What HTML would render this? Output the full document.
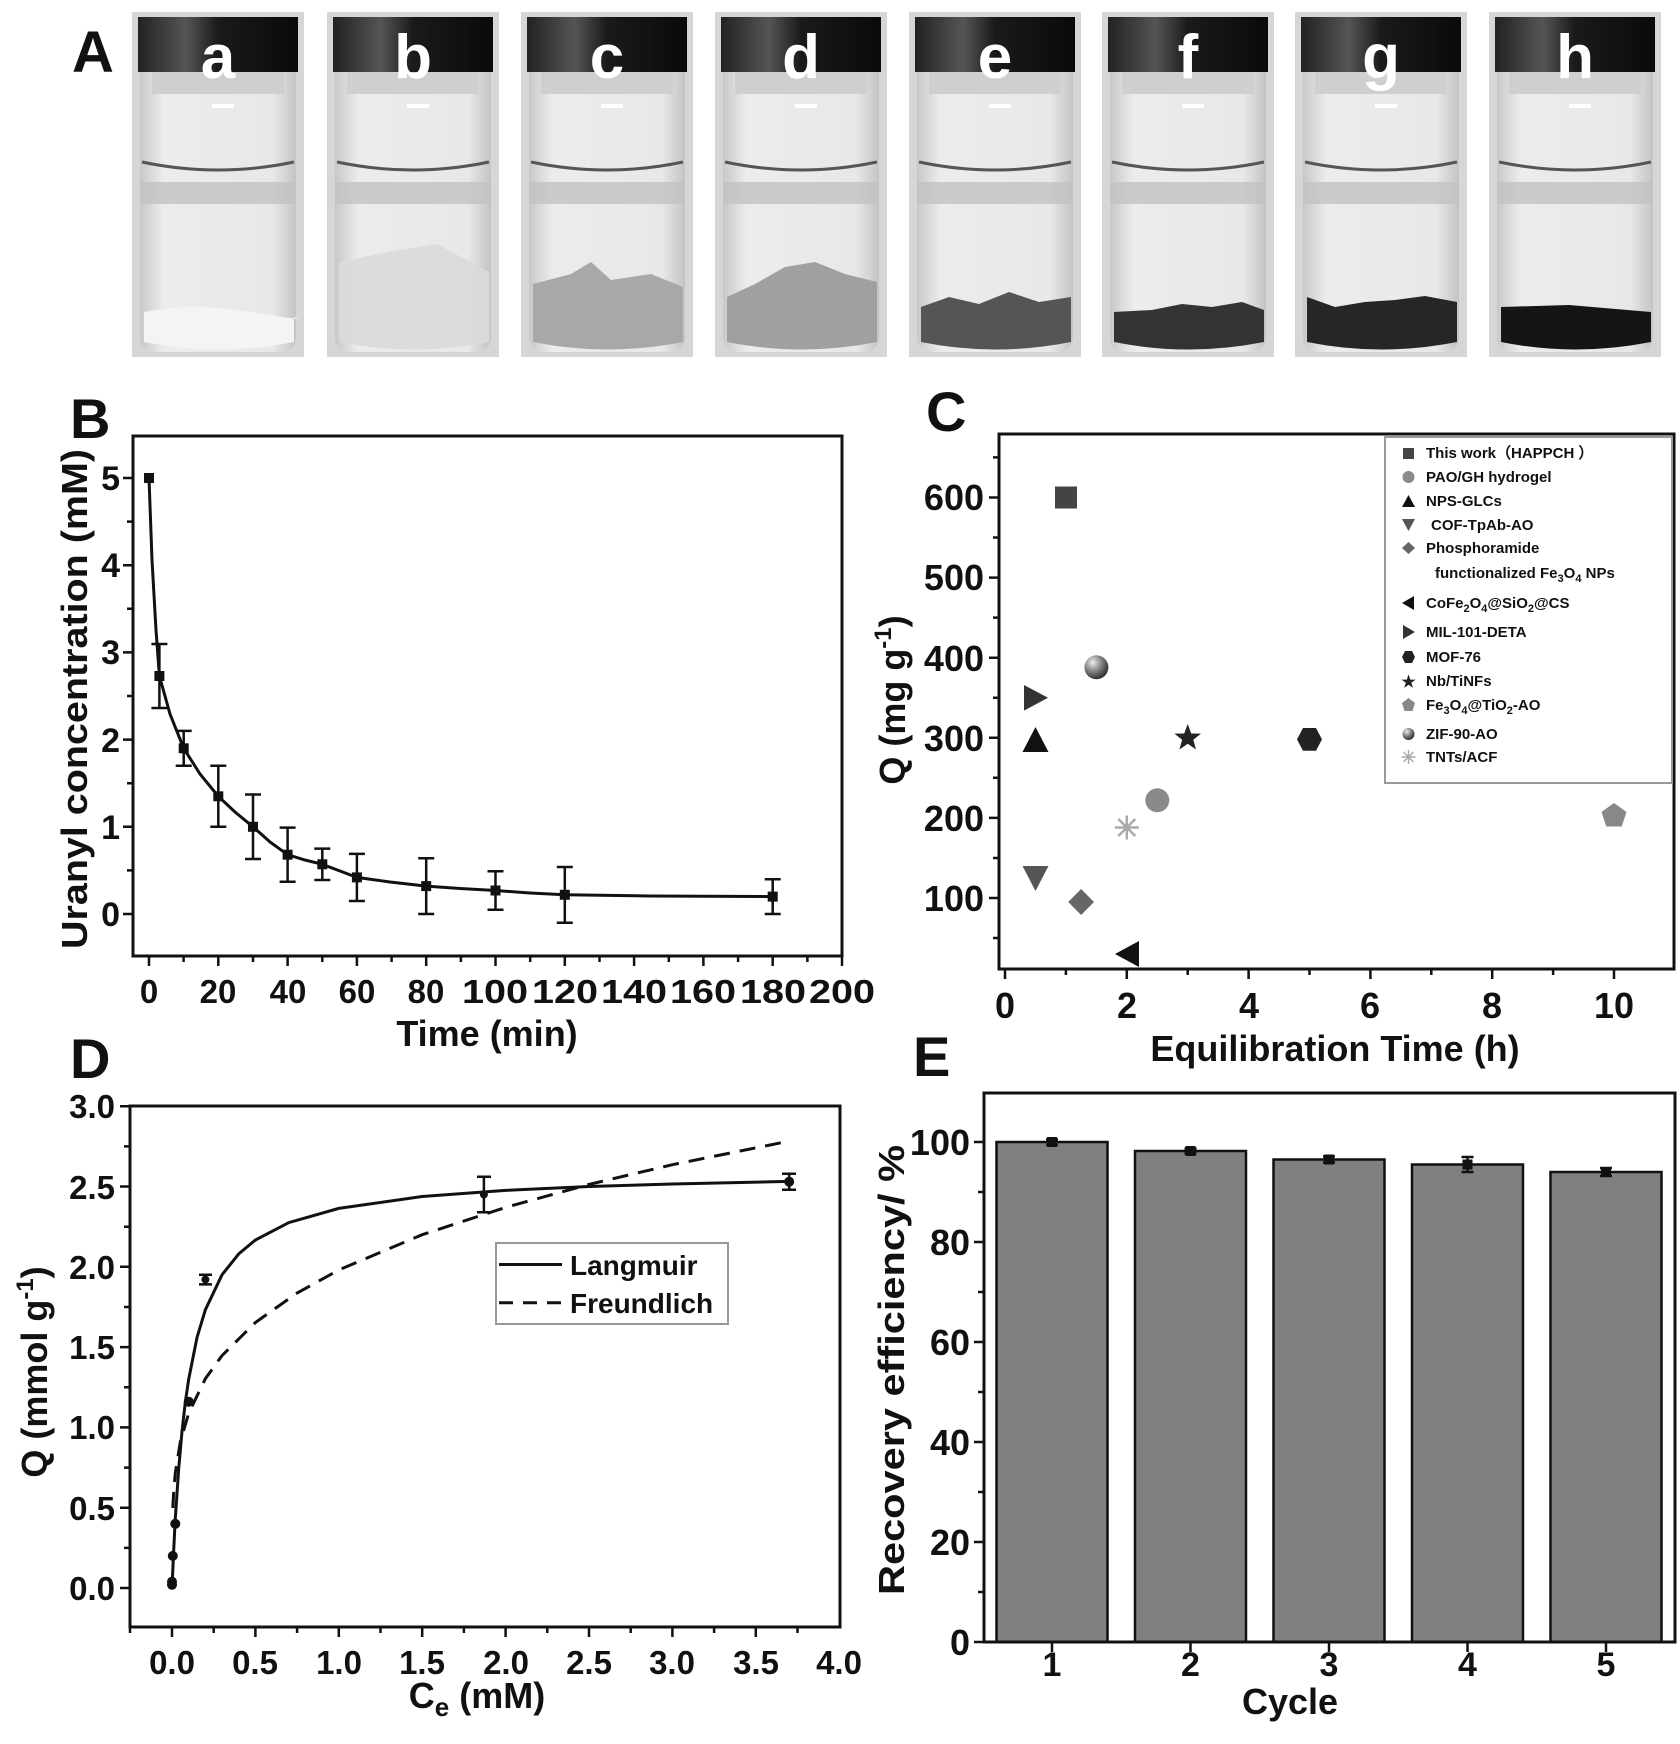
<!DOCTYPE html>
<html><head><meta charset="utf-8"><style>
body{margin:0;background:#fff}
svg{display:block}
text{font-family:"Liberation Sans",sans-serif;font-weight:bold;fill:#111}
</style></head><body>
<svg width="1680" height="1744" viewBox="0 0 1680 1744" xmlns="http://www.w3.org/2000/svg">
<defs>
<linearGradient id="glass" x1="0" x2="1" y1="0" y2="0">
<stop offset="0" stop-color="#c8c8c8"/><stop offset="0.15" stop-color="#ececec"/><stop offset="0.85" stop-color="#e8e8e8"/><stop offset="1" stop-color="#c4c4c4"/></linearGradient>
<linearGradient id="cap" x1="0" x2="1" y1="0" y2="0">
<stop offset="0" stop-color="#222"/><stop offset="0.3" stop-color="#555"/><stop offset="0.5" stop-color="#1a1a1a"/><stop offset="1" stop-color="#0a0a0a"/></linearGradient>
<radialGradient id="sph" cx="0.35" cy="0.3" r="0.7"><stop offset="0" stop-color="#eee"/><stop offset="0.5" stop-color="#888"/><stop offset="1" stop-color="#333"/></radialGradient>
<g id="vial">
<rect x="0" y="0" width="172" height="345" fill="#d6d6d6"/>
<rect x="8" y="42" width="156" height="298" rx="14" fill="url(#glass)"/>
<rect x="6" y="5" width="160" height="55" fill="url(#cap)"/>
<rect x="20" y="60" width="132" height="22" fill="#cfcfcf"/>
<rect x="80" y="92" width="22" height="4" fill="#fff"/>
<path d="M10 150 Q86 166 162 150" stroke="#555" stroke-width="3" fill="none"/>
<rect x="8" y="170" width="156" height="22" fill="#c2c2c2" opacity="0.8"/>
</g>
</defs>

<!-- Panel A -->
<text x="72" y="72" font-size="58">A</text>
<g transform="translate(132,12)"><use href="#vial"/><path d="M12 300 Q60 290 120 300 T162 305 L162 330 Q86 345 12 330Z" fill="#f4f4f4"/><text x="86" y="66" font-size="62" text-anchor="middle" style="fill:#fff">a</text></g>
<g transform="translate(327,12)"><use href="#vial"/><path d="M12 250 L60 240 L110 232 L162 260 L162 330 Q86 345 12 330Z" fill="#dadada" opacity="0.9"/><text x="86" y="66" font-size="62" text-anchor="middle" style="fill:#fff">b</text></g>
<g transform="translate(521,12)"><use href="#vial"/><path d="M12 272 L50 262 L70 250 L90 268 L130 262 L162 275 L162 330 Q86 345 12 330Z" fill="#a8a8a8"/><text x="86" y="66" font-size="62" text-anchor="middle" style="fill:#fff">c</text></g>
<g transform="translate(715,12)"><use href="#vial"/><path d="M12 285 L40 272 L70 255 L100 250 L130 262 L162 270 L162 330 Q86 345 12 330Z" fill="#a0a0a0"/><text x="86" y="66" font-size="62" text-anchor="middle" style="fill:#fff">d</text></g>
<g transform="translate(909,12)"><use href="#vial"/><path d="M12 295 L40 285 L70 292 L100 280 L130 290 L162 285 L162 330 Q86 345 12 330Z" fill="#555"/><text x="86" y="66" font-size="62" text-anchor="middle" style="fill:#fff">e</text></g>
<g transform="translate(1102,12)"><use href="#vial"/><path d="M12 300 L50 298 L80 292 L110 295 L140 290 L162 298 L162 330 Q86 345 12 330Z" fill="#333"/><text x="86" y="66" font-size="62" text-anchor="middle" style="fill:#fff">f</text></g>
<g transform="translate(1295,12)"><use href="#vial"/><path d="M12 285 L40 295 L70 290 L100 288 L130 284 L162 290 L162 330 Q86 345 12 330Z" fill="#262626"/><text x="86" y="66" font-size="62" text-anchor="middle" style="fill:#fff">g</text></g>
<g transform="translate(1489,12)"><use href="#vial"/><path d="M12 295 L80 293 L162 300 L162 330 Q86 345 12 330Z" fill="#151515"/><text x="86" y="66" font-size="62" text-anchor="middle" style="fill:#fff">h</text></g>

<!-- Panel B -->
<text x="70" y="438" font-size="56">B</text>
<rect x="133" y="436" width="709" height="520" fill="none" stroke="#111" stroke-width="3"/>
<g stroke="#111" stroke-width="2.5">
<path d="M149 956v10M218.3 956v10M287.6 956v10M356.9 956v10M426.2 956v10M495.5 956v10M564.8 956v10M634.1 956v10M703.4 956v10M772.7 956v10M842 956v10"/>
<path d="M183.6 956v6M253 956v6M322.3 956v6M391.6 956v6M460.9 956v6M530.2 956v6M599.5 956v6M668.8 956v6M738.1 956v6M807.4 956v6"/>
<path d="M133 914h-10M133 826.8h-10M133 739.6h-10M133 652.4h-10M133 565.2h-10M133 478h-10"/>
<path d="M133 870.4h-6M133 783.2h-6M133 696h-6M133 608.8h-6M133 521.6h-6"/>
</g>
<g font-size="34" text-anchor="end">
<text x="120" y="926">0</text><text x="120" y="839">1</text><text x="120" y="752">2</text><text x="120" y="664">3</text><text x="120" y="577">4</text><text x="120" y="490">5</text>
</g>
<g font-size="33" text-anchor="middle">
<text x="149" y="1003">0</text><text x="218" y="1003">20</text><text x="288" y="1003">40</text><text x="357" y="1003">60</text><text x="426" y="1003">80</text><text x="495" y="1003" textLength="66" lengthAdjust="spacingAndGlyphs">100</text><text x="565" y="1003" textLength="66" lengthAdjust="spacingAndGlyphs">120</text><text x="634" y="1003" textLength="66" lengthAdjust="spacingAndGlyphs">140</text><text x="703" y="1003" textLength="66" lengthAdjust="spacingAndGlyphs">160</text><text x="773" y="1003" textLength="66" lengthAdjust="spacingAndGlyphs">180</text><text x="842" y="1003" textLength="66" lengthAdjust="spacingAndGlyphs">200</text>
</g>
<text x="487" y="1046" font-size="36" text-anchor="middle">Time (min)</text>
<text transform="translate(87,699) rotate(-90)" font-size="36" text-anchor="middle" textLength="500" lengthAdjust="spacingAndGlyphs">Uranyl concentration (mM)</text>
<path d="M149 478 L152 560 L156 630 L159.4 676 L170 714 L183.7 748.3 L200 774 L218.3 796.3 L235 812 L253 826.8 L270 842 L287.6 854.7 L305 860 L322.3 864.3 L340 871 L356.9 877.4 L390 882 L426.2 886.1 L460 888.5 L495.5 890.5 L530 893 L564.8 894.8 L650 896 L772.7 896.6" fill="none" stroke="#111" stroke-width="3"/>
<g stroke="#111" stroke-width="2.5">
<path d="M159.4 644v64M151.4 644h16M151.4 708h16"/>
<path d="M183.7 730.9v34.8M175.7 730.9h16M175.7 765.7h16"/>
<path d="M218.3 765.8v61M210.3 765.8h16M210.3 826.8h16"/>
<path d="M253 794.5v64.5M245 794.5h16M245 859h16"/>
<path d="M287.6 827.6v54.1M279.6 827.6h16M279.6 881.7h16"/>
<path d="M322.3 848.6v31.4M314.3 848.6h16M314.3 880h16"/>
<path d="M356.9 853.9v47.1M348.9 853.9h16M348.9 901h16"/>
<path d="M426.2 858.2v55.8M418.2 858.2h16M418.2 914h16"/>
<path d="M495.5 871.3v38.4M487.5 871.3h16M487.5 909.7h16"/>
<path d="M564.8 867v55.7M556.8 867h16M556.8 922.7h16"/>
<path d="M772.7 879.2v34.8M764.7 879.2h16M764.7 914h16"/>
</g>
<g fill="#111">
<rect x="144" y="473" width="10" height="10"/><rect x="154.4" y="671" width="10" height="10"/><rect x="178.7" y="743.3" width="10" height="10"/><rect x="213.3" y="791.3" width="10" height="10"/><rect x="248" y="821.8" width="10" height="10"/><rect x="282.6" y="849.7" width="10" height="10"/><rect x="317.3" y="859.3" width="10" height="10"/><rect x="351.9" y="872.4" width="10" height="10"/><rect x="421.2" y="881.1" width="10" height="10"/><rect x="490.5" y="885.5" width="10" height="10"/><rect x="559.8" y="889.8" width="10" height="10"/><rect x="767.7" y="891.6" width="10" height="10"/>
</g>

<!-- Panel C -->
<text x="926" y="431" font-size="56">C</text>
<rect x="999" y="434" width="675" height="535" fill="none" stroke="#111" stroke-width="3"/>
<g stroke="#111" stroke-width="2.5">
<path d="M1005 969v10M1126.8 969v10M1248.6 969v10M1370.4 969v10M1492.2 969v10M1614 969v10"/>
<path d="M1065.9 969v6M1187.7 969v6M1309.5 969v6M1431.3 969v6M1553.1 969v6"/>
<path d="M999 898h-10M999 817.9h-10M999 737.8h-10M999 657.7h-10M999 577.6h-10M999 497.5h-10"/>
<path d="M999 938h-6M999 858h-6M999 777.8h-6M999 697.7h-6M999 617.6h-6M999 537.5h-6M999 457.4h-6"/>
</g>
<g font-size="36" text-anchor="end">
<text x="984" y="911">100</text><text x="984" y="831">200</text><text x="984" y="751">300</text><text x="984" y="671">400</text><text x="984" y="590">500</text><text x="984" y="510">600</text>
</g>
<g font-size="36" text-anchor="middle">
<text x="1005" y="1018">0</text><text x="1127" y="1018">2</text><text x="1249" y="1018">4</text><text x="1370" y="1018">6</text><text x="1492" y="1018">8</text><text x="1614" y="1018">10</text>
</g>
<text x="1335" y="1061" font-size="36" text-anchor="middle">Equilibration Time (h)</text>
<text transform="translate(905,700) rotate(-90)" font-size="36" text-anchor="middle">Q (mg g<tspan dy="-14" font-size="24">-1</tspan><tspan dy="14">)</tspan></text>
<!-- markers -->
<rect x="1055" y="486.5" width="22" height="22" fill="#444"/>
<circle cx="1096.4" cy="667.3" r="12" fill="url(#sph)"/>
<path d="M1024 685 L1048 697.8 L1024 710.6Z" fill="#333"/>
<path d="M1035.5 727 L1048.5 752 L1022.5 752Z" fill="#111"/>
<path d="M1187.7 724 L1191.2 733.5 L1201 733.6 L1193.3 739.8 L1196 749.5 L1187.7 743.8 L1179.4 749.5 L1182.1 739.8 L1174.4 733.6 L1184.2 733.5Z" fill="#222"/>
<path d="M1303 728 L1316 728 L1322 739.4 L1316 750.8 L1303 750.8 L1297 739.4Z" fill="#222"/>
<circle cx="1157.3" cy="800.3" r="12" fill="#8a8a8a"/>
<g stroke="#aaa" stroke-width="2.5"><path d="M1114.8 827.5h24M1126.8 815.5v24M1118.3 819l17 17M1135.3 819l-17 17"/></g>
<path d="M1614 803 L1626.5 812 L1621.7 826.5 L1606.3 826.5 L1601.5 812Z" fill="#888"/>
<path d="M1022.5 866 L1048.5 866 L1035.5 891Z" fill="#555"/>
<path d="M1081.1 889 L1094 902 L1081.1 915 L1068.2 902Z" fill="#666"/>
<path d="M1139 941 L1139 967 L1115 954Z" fill="#111"/>
<!-- legend -->
<rect x="1385" y="437" width="287" height="346" fill="#fff" stroke="#999" stroke-width="2"/>
<g font-size="15">
<rect x="1403" y="448" width="11" height="11" fill="#444"/><text x="1426" y="458">This work（HAPPCH ）</text>
<circle cx="1408.5" cy="477" r="6" fill="#8a8a8a"/><text x="1426" y="482">PAO/GH hydrogel</text>
<path d="M1408.5 495 L1415 507 L1402 507Z" fill="#111"/><text x="1426" y="506">NPS-GLCs</text>
<path d="M1402 519 L1415 519 L1408.5 531Z" fill="#555"/><text x="1431" y="530">COF-TpAb-AO</text>
<path d="M1408.5 542 L1415 548 L1408.5 554 L1402 548Z" fill="#666"/><text x="1426" y="553">Phosphoramide</text>
<text x="1435" y="578">functionalized Fe<tspan font-size="11" dy="4">3</tspan><tspan dy="-4">O</tspan><tspan font-size="11" dy="4">4</tspan><tspan dy="-4"> NPs</tspan></text>
<path d="M1414 596 L1414 610 L1402 603Z" fill="#111"/><text x="1426" y="608">CoFe<tspan font-size="11" dy="4">2</tspan><tspan dy="-4">O</tspan><tspan font-size="11" dy="4">4</tspan><tspan dy="-4">@SiO</tspan><tspan font-size="11" dy="4">2</tspan><tspan dy="-4">@CS</tspan></text>
<path d="M1403 625 L1415 632 L1403 639Z" fill="#333"/><text x="1426" y="637">MIL-101-DETA</text>
<path d="M1405 651 L1412 651 L1415 657 L1412 663 L1405 663 L1402 657Z" fill="#222"/><text x="1426" y="662">MOF-76</text>
<text x="1408.5" y="687" font-size="16" text-anchor="middle" style="fill:#222">★</text><text x="1426" y="686">Nb/TiNFs</text>
<path d="M1408.5 698 L1415 703 L1412.5 711 L1404.5 711 L1402 703Z" fill="#888"/><text x="1426" y="710">Fe<tspan font-size="11" dy="4">3</tspan><tspan dy="-4">O</tspan><tspan font-size="11" dy="4">4</tspan><tspan dy="-4">@TiO</tspan><tspan font-size="11" dy="4">2</tspan><tspan dy="-4">-AO</tspan></text>
<circle cx="1408.5" cy="734" r="6" fill="url(#sph)"/><text x="1426" y="739">ZIF-90-AO</text>
<g stroke="#aaa" stroke-width="1.5"><path d="M1401.5 757h14M1408.5 750v14M1403.5 752l10 10M1413.5 752l-10 10"/></g><text x="1426" y="762">TNTs/ACF</text>
</g>

<!-- Panel D -->
<text x="70" y="1078" font-size="56">D</text>
<rect x="130" y="1106" width="710" height="521" fill="none" stroke="#111" stroke-width="3"/>
<g stroke="#111" stroke-width="2.5">
<path d="M172 1627v10M255.4 1627v10M338.8 1627v10M422.2 1627v10M505.6 1627v10M589 1627v10M672.4 1627v10M755.8 1627v10"/>
<path d="M130 1627v6M213.7 1627v6M297.1 1627v6M380.5 1627v6M463.9 1627v6M547.3 1627v6M630.7 1627v6M714.1 1627v6M797.5 1627v6"/>
<path d="M130 1588h-10M130 1507.7h-10M130 1427.4h-10M130 1347.1h-10M130 1266.8h-10M130 1186.5h-10M130 1106.2h-10"/>
<path d="M130 1547.9h-6M130 1467.6h-6M130 1387.3h-6M130 1307h-6M130 1226.7h-6M130 1146.4h-6"/>
</g>
<g font-size="33" text-anchor="end">
<text x="115" y="1600">0.0</text><text x="115" y="1520">0.5</text><text x="115" y="1439">1.0</text><text x="115" y="1359">1.5</text><text x="115" y="1279">2.0</text><text x="115" y="1199">2.5</text><text x="115" y="1118">3.0</text>
</g>
<g font-size="33" text-anchor="middle">
<text x="172" y="1674">0.0</text><text x="255" y="1674">0.5</text><text x="339" y="1674">1.0</text><text x="422" y="1674">1.5</text><text x="506" y="1674">2.0</text><text x="589" y="1674">2.5</text><text x="672" y="1674">3.0</text><text x="756" y="1674">3.5</text><text x="839" y="1674">4.0</text>
</g>
<text x="477" y="1708" font-size="36" text-anchor="middle">C<tspan font-size="26" dy="8">e</tspan><tspan dy="-8"> (mM)</tspan></text>
<text transform="translate(47,1372) rotate(-90)" font-size="36" text-anchor="middle">Q (mmol g<tspan dy="-14" font-size="24">-1</tspan><tspan dy="14">)</tspan></text>
<path d="M172 1588 L173.7 1550.1 L175.3 1518.4 L178.7 1468.7 L182 1431.4 L185.3 1402.3 L188.7 1379.2 L197 1337.5 L205.4 1309.7 L222 1274.8 L238.7 1253.9 L255.4 1240 L288.8 1222.6 L338.8 1208.4 L422.2 1196.5 L505.6 1190.4 L589 1186.5 L672.4 1184 L789.2 1181.4" fill="none" stroke="#111" stroke-width="3"/>
<path d="M172.8 1507.9 L173.7 1492 L175.3 1472.9 L180.3 1442 L188.7 1413.1 L205.4 1378.7 L222 1355.6 L255.4 1322.5 L297.1 1293 L338.8 1270 L422.2 1234.7 L505.6 1207.4 L589 1184.4 L672.4 1164.7 L780.8 1142.8" fill="none" stroke="#111" stroke-width="3" stroke-dasharray="16 10"/>
<g stroke="#111" stroke-width="2.5">
<path d="M205.4 1274.8v9.6M199 1274.8h13M199 1284.4h13"/>
<path d="M483.9 1176.8v35.4M477 1176.8h14M477 1212.2h14"/>
<path d="M789.2 1173.7v16M782 1173.7h14M782 1189.7h14"/>
</g>
<g fill="#111">
<circle cx="172" cy="1584.8" r="5"/><circle cx="172" cy="1581.6" r="5"/><circle cx="172.8" cy="1555.9" r="5"/><circle cx="175.3" cy="1523.8" r="5"/><circle cx="188.7" cy="1401.7" r="5"/><circle cx="205.4" cy="1279.6" r="4"/><circle cx="483.9" cy="1194.5" r="4"/><circle cx="789.2" cy="1181.7" r="5"/>
</g>
<rect x="496" y="1243" width="232" height="81" fill="#fff" stroke="#999" stroke-width="2"/>
<path d="M499 1264.5h63" stroke="#111" stroke-width="3"/>
<path d="M499 1302.7h63" stroke="#111" stroke-width="3" stroke-dasharray="14 10"/>
<text x="570" y="1275" font-size="28">Langmuir</text>
<text x="570" y="1313" font-size="28">Freundlich</text>

<!-- Panel E -->
<text x="913" y="1076" font-size="56">E</text>
<g fill="#808080" stroke="#111" stroke-width="2.5">
<rect x="996.5" y="1142" width="111" height="500"/>
<rect x="1135" y="1151" width="111" height="491"/>
<rect x="1273.5" y="1159.5" width="111" height="482.5"/>
<rect x="1412" y="1164.5" width="111" height="477.5"/>
<rect x="1550.5" y="1172" width="111" height="470"/>
</g>
<g stroke="#111" stroke-width="2.5">
<path d="M1052 1139.5v5M1046 1139.5h12M1046 1144.5h12"/>
<path d="M1190.5 1148.5v5M1184.5 1148.5h12M1184.5 1153.5h12"/>
<path d="M1329 1156.5v6M1323 1156.5h12M1323 1162.5h12"/>
<path d="M1467.5 1157v15M1461.5 1157h12M1461.5 1172h12"/>
<path d="M1606 1168v8M1600 1168h12M1600 1176h12"/>
</g>
<g fill="#111"><rect x="1047" y="1137" width="10" height="10"/><rect x="1185.5" y="1146" width="10" height="10"/><rect x="1324" y="1154.5" width="10" height="10"/><rect x="1462.5" y="1159.5" width="10" height="10"/><rect x="1601" y="1167" width="10" height="10"/></g>
<rect x="984" y="1093" width="691" height="549" fill="none" stroke="#111" stroke-width="3"/>
<g stroke="#111" stroke-width="2.5">
<path d="M1052 1642v10M1190.5 1642v10M1329 1642v10M1467.5 1642v10M1606 1642v10"/>
<path d="M984 1642h-10M984 1542h-10M984 1442h-10M984 1342h-10M984 1242h-10M984 1142h-10"/>
<path d="M984 1592h-6M984 1492h-6M984 1392h-6M984 1292h-6M984 1192h-6"/>
</g>
<g font-size="36" text-anchor="end">
<text x="970" y="1655">0</text><text x="970" y="1555">20</text><text x="970" y="1455">40</text><text x="970" y="1355">60</text><text x="970" y="1255">80</text><text x="970" y="1155">100</text>
</g>
<g font-size="34" text-anchor="middle">
<text x="1052" y="1676">1</text><text x="1190.5" y="1676">2</text><text x="1329" y="1676">3</text><text x="1467.5" y="1676">4</text><text x="1606" y="1676">5</text>
</g>
<text x="1290" y="1714" font-size="36" text-anchor="middle">Cycle</text>
<text transform="translate(904,1370) rotate(-90)" font-size="36" text-anchor="middle" textLength="450" lengthAdjust="spacingAndGlyphs">Recovery efficiency/ %</text>
</svg>
</body></html>
